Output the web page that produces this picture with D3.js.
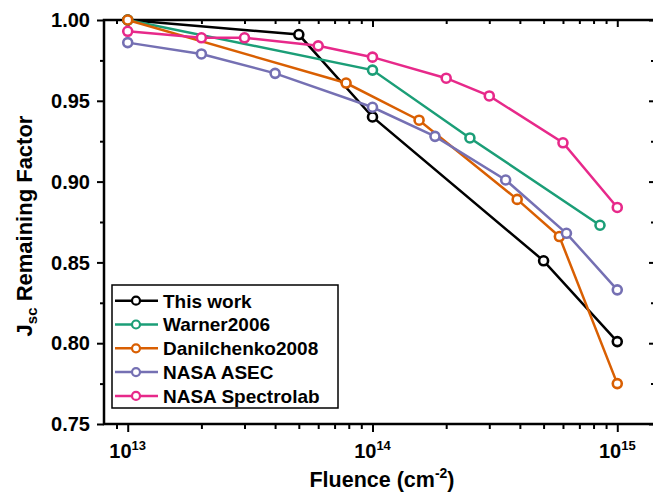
<!DOCTYPE html>
<html>
<head>
<meta charset="utf-8">
<script src="https://cdn.jsdelivr.net/npm/d3@7/dist/d3.min.js"></script>
<style>
  html, body { margin: 0; padding: 0; background: #fff; }
  svg { display: block; font-family: "Liberation Sans", Arial, sans-serif; font-weight: bold; }
</style>
</head>
<body>
<svg id="chart" width="653" height="493"></svg>
<script>
// ---- Data ----
const seriesNames = ["This work", "Warner2006", "Danilchenko2008", "NASA ASEC", "NASA Spectrolab"];
const seriesColors = ["#000000", "#1b9e77", "#d95f02", "#7570b3", "#e7298a"];

const thisWorkX = [1e13, 5e13, 1e14, 5e14, 1e15];
const thisWorkY = [1.000, 0.991, 0.940, 0.851, 0.801];

const warnerX = [1e13, 1e14, 2.5e14, 8.5e14];
const warnerY = [1.000, 0.969, 0.927, 0.873];

const danilX = [1e13, 7.8e13, 1.55e14, 3.9e14, 5.8e14, 1e15];
const danilY = [1.000, 0.961, 0.938, 0.889, 0.866, 0.775];

const asecX = [1e13, 2e13, 4e13, 1e14, 1.8e14, 3.5e14, 6.2e14, 1e15];
const asecY = [0.986, 0.979, 0.967, 0.946, 0.928, 0.901, 0.868, 0.833];

const spectroX = [1e13, 2e13, 3e13, 6e13, 1e14, 2e14, 3e14, 6e14, 1e15];
const spectroY = [0.993, 0.989, 0.989, 0.984, 0.977, 0.964, 0.953, 0.924, 0.884];

const yMajorTicks = [0.75, 0.80, 0.85, 0.90, 0.95, 1.00];
const yMinorTicks = [0.775, 0.825, 0.875, 0.925, 0.975];
const xMajorTicks = [1e13, 1e14, 1e15];
const xMinorTicks = [9e12, 2e13, 3e13, 4e13, 5e13, 6e13, 7e13, 8e13, 9e13,
                     2e14, 3e14, 4e14, 5e14, 6e14, 7e14, 8e14, 9e14];
const xTickExponents = ["13", "14", "15"];

const xTitle = "Fluence (cm";
const xTitleSup = "-2";
const yTitleMain = "J";
const yTitleSub = "sc";
const yTitleRest = " Remaining Factor";

// ---- Layout ----
const svg = d3.select("#chart");
const pL = 104, pR = 655, pT = 20, pB = 424;

const x = d3.scaleLog().domain([8e12, 1.426e15]).range([pL, pR]);
const y = d3.scaleLinear().domain([0.75, 1.0]).range([pB, pT]);

const series = [
  { name: seriesNames[0], color: seriesColors[0], xs: thisWorkX, ys: thisWorkY },
  { name: seriesNames[1], color: seriesColors[1], xs: warnerX, ys: warnerY },
  { name: seriesNames[2], color: seriesColors[2], xs: danilX, ys: danilY },
  { name: seriesNames[3], color: seriesColors[3], xs: asecX, ys: asecY },
  { name: seriesNames[4], color: seriesColors[4], xs: spectroX, ys: spectroY }
];

// ---- Axes ----
const axW = 2.5;
function styleAxis(g) {
  g.select(".domain").remove();
  g.selectAll("line").attr("stroke", "#000").attr("stroke-width", 2);
  g.selectAll("text").remove();
}
// left
svg.append("g").attr("transform", `translate(${pL},0)`)
  .call(d3.axisLeft(y).tickValues(yMajorTicks).tickSize(7).tickSizeOuter(0)).call(styleAxis);
svg.append("g").attr("transform", `translate(${pL},0)`)
  .call(d3.axisLeft(y).tickValues(yMinorTicks).tickSize(4).tickSizeOuter(0)).call(styleAxis);
// right (inward)
svg.append("g").attr("transform", `translate(${pR},0)`)
  .call(d3.axisRight(y).tickValues(yMajorTicks).tickSize(-6).tickSizeOuter(0)).call(styleAxis);
svg.append("g").attr("transform", `translate(${pR},0)`)
  .call(d3.axisRight(y).tickValues(yMinorTicks).tickSize(-4).tickSizeOuter(0)).call(styleAxis);
// bottom
svg.append("g").attr("transform", `translate(0,${pB})`)
  .call(d3.axisBottom(x).tickValues(xMajorTicks).tickSize(8).tickSizeOuter(0)).call(styleAxis);
svg.append("g").attr("transform", `translate(0,${pB})`)
  .call(d3.axisBottom(x).tickValues(xMinorTicks).tickSize(5).tickSizeOuter(0)).call(styleAxis);
// top (inward)
svg.append("g").attr("transform", `translate(0,${pT})`)
  .call(d3.axisTop(x).tickValues(xMajorTicks).tickSize(-7).tickSizeOuter(0)).call(styleAxis);
svg.append("g").attr("transform", `translate(0,${pT})`)
  .call(d3.axisTop(x).tickValues(xMinorTicks).tickSize(-4).tickSizeOuter(0)).call(styleAxis);

// frame
svg.append("rect").attr("x", pL).attr("y", pT)
  .attr("width", pR - pL).attr("height", pB - pT)
  .attr("fill", "none").attr("stroke", "#000").attr("stroke-width", axW);

// y tick labels
svg.append("g").selectAll("text").data(yMajorTicks).join("text")
  .attr("x", 90).attr("y", d => y(d)).attr("dy", "0.36em")
  .attr("text-anchor", "end").attr("font-size", 20)
  .text(d => d.toFixed(2));

// x tick labels
const xl = svg.append("g").selectAll("text").data(xMajorTicks).join("text")
  .attr("x", d => x(d)).attr("y", 458).attr("text-anchor", "middle")
  .attr("font-size", 20);
xl.append("tspan").text("10");
xl.append("tspan").attr("font-size", 13).attr("dy", -8).text((d, i) => xTickExponents[i]);

// x title
const xt = svg.append("text").attr("x", 382).attr("y", 487)
  .attr("text-anchor", "middle").attr("font-size", 21.5);
xt.append("tspan").text(xTitle);
xt.append("tspan").attr("font-size", 14).attr("dy", -9).text(xTitleSup);
xt.append("tspan").attr("dy", 9).text(")");

// y title
const yt = svg.append("text").attr("transform", "translate(32,226) rotate(-90)")
  .attr("text-anchor", "middle").attr("font-size", 22);
yt.append("tspan").text(yTitleMain);
yt.append("tspan").attr("font-size", 15).attr("dy", 5).text(yTitleSub);
yt.append("tspan").attr("dy", -5).text(yTitleRest);

// ---- Data lines ----
const line = d3.line().x(d => x(d[0])).y(d => y(d[1]));
series.forEach(s => {
  const pts = s.xs.map((v, i) => [v, s.ys[i]]);
  const g = svg.append("g");
  g.append("path").datum(pts).attr("d", line)
    .attr("fill", "none").attr("stroke", s.color).attr("stroke-width", 2.5);
  g.selectAll("circle").data(pts).join("circle")
    .attr("cx", d => x(d[0])).attr("cy", d => y(d[1])).attr("r", 4.5)
    .attr("fill", "#fff").attr("stroke", s.color).attr("stroke-width", 2.6);
});

// ---- Legend ----
const lg = svg.append("g");
lg.append("rect").attr("x", 112).attr("y", 285).attr("width", 226).attr("height", 123)
  .attr("fill", "#fff").attr("stroke", "#000").attr("stroke-width", 1.5);
series.forEach((s, i) => {
  const cy = 300.7 + i * 23.8;
  lg.append("line").attr("x1", 115).attr("x2", 158).attr("y1", cy).attr("y2", cy)
    .attr("stroke", s.color).attr("stroke-width", 2.5);
  lg.append("circle").attr("cx", 136).attr("cy", cy).attr("r", 4)
    .attr("fill", "#fff").attr("stroke", s.color).attr("stroke-width", 2.2);
  lg.append("text").attr("x", 163).attr("y", cy).attr("dy", "0.36em")
    .attr("font-size", 19).text(s.name);
});
</script>
</body>
</html>
